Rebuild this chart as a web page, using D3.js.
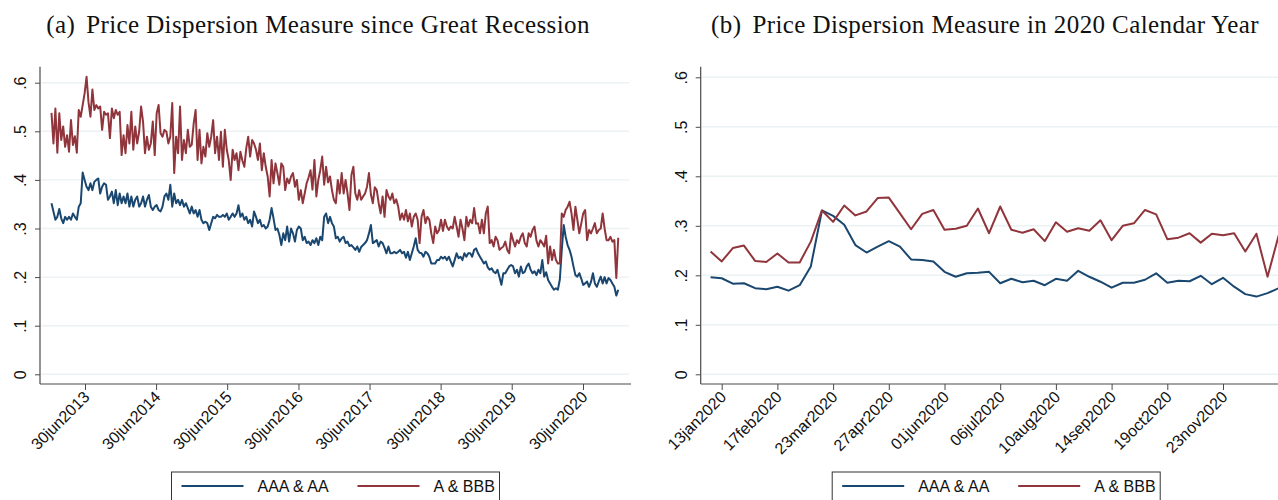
<!DOCTYPE html>
<html>
<head>
<meta charset="utf-8">
<script src="https://cdn.jsdelivr.net/npm/d3@7"></script>
<style>
  html, body { margin: 0; padding: 0; background: #fff; overflow: hidden; }
  svg { display: block; }
</style>
</head>
<body>
<div id="chart"></div>
<script>
// Series labels and axis ticks
const seriesNames = ["AAA & AA", "A & BBB"];
const yTicks = [0, 0.1, 0.2, 0.3, 0.4, 0.5, 0.6];
const yTickLabels = ["0", ".1", ".2", ".3", ".4", ".5", ".6"];
const wideTicks = ["2013-06-30", "2014-06-30", "2015-06-30", "2016-06-30",
                   "2017-06-30", "2018-06-30", "2019-06-30", "2020-06-30"];
const yearTicks = ["2020-01-13", "2020-02-17", "2020-03-23", "2020-04-27", "2020-06-01",
                   "2020-07-06", "2020-08-10", "2020-09-14", "2020-10-19", "2020-11-23"];

// Panel (a): every 10 days, from 09jan2013
const wideStart = "2013-01-09";
const wideStepDays = 10;
const wideAAA = [
  .352, .335, .318, .324, .340, .321, .311, .324, .318, .324,
  .318, .331, .324, .318, .345, .352, .415, .400, .386, .379,
  .393, .379, .396, .400, .403, .372, .386, .393, .390, .359,
  .366, .376, .352, .379, .348, .372, .352, .366, .352, .372,
  .345, .366, .345, .359, .366, .345, .352, .366, .345, .359,
  .369, .345, .338, .345, .348, .338, .335, .345, .366, .372,
  .359, .390, .345, .372, .352, .359, .348, .359, .345, .352,
  .342, .331, .345, .331, .338, .324, .338, .318, .311, .314,
  .311, .297, .311, .324, .321, .328, .324, .324, .328, .324,
  .331, .318, .324, .331, .324, .331, .348, .324, .331, .318,
  .324, .311, .318, .304, .335, .324, .311, .318, .304, .307,
  .300, .304, .318, .342, .321, .297, .300, .287, .266, .290,
  .276, .304, .273, .300, .290, .273, .297, .304, .300, .276,
  .283, .270, .273, .266, .276, .270, .280, .266, .283, .276,
  .324, .331, .311, .324,
  .311, .304, .280, .283, .273, .280, .283, .270, .273, .264,
  .266, .261, .256, .263, .252, .262, .266, .270, .276, .290,
  .307, .270, .273, .276, .263, .273, .270, .260, .249, .263,
  .249, .249, .252, .249, .252, .256, .249, .252, .240, .252,
  .235, .249, .263, .280, .256, .250, .249, .242, .252, .249,
  .242, .228, .228, .228, .235, .235, .242, .238, .242, .235,
  .242, .232, .222, .235, .249, .239, .242, .235, .249, .242,
  .249, .249, .242, .256, .259, .249, .242, .235, .228, .232,
  .220, .215, .218, .211, .208, .215, .200, .184, .208, .208,
  .215, .222, .225, .222, .208, .215, .201, .222, .208, .211,
  .222, .228, .215, .208, .212, .204, .215, .208, .235, .201,
  .210, .194, .187, .180, .174, .177, .174, .195, .256, .307,
  .283, .266, .256, .242, .222, .204, .201, .208, .197, .184,
  .187, .191, .180, .190, .208, .187, .180, .191, .201, .187,
  .200, .187, .198, .194, .187, .180, .162, .174
];
const wideBBB = [
  .538, .475, .547, .456, .537, .482, .510, .468, .492, .458,
  .523, .472, .490, .456, .544, .530, .554, .578, .612, .560,
  .530, .586, .544, .554, .547, .551, .503, .540, .534, .537,
  .486, .547, .527, .544, .534, .540, .451, .492, .455, .513,
  .475, .540, .462, .510, .475, .499, .551, .520, .455, .489,
  .462, .475, .520, .451, .537, .554, .496, .489, .503, .499,
  .475, .489, .558, .414, .489, .455, .551, .441, .482, .455,
  .503, .468, .472, .516, .544, .441, .503, .434, .468, .448,
  .496, .468, .489, .523, .455, .489, .441, .499, .427, .503,
  .462, .441, .400, .462, .441, .455, .420, .458, .440, .427,
  .465, .489, .448, .482, .475, .462, .441, .475, .420, .455,
  .427, .407, .366, .441, .393, .434, .414, .390, .434, .427,
  .379, .403, .393, .407, .414, .386, .400, .359, .379, .352,
  .372, .393, .405, .420, .380, .441, .366, .400, .420, .448,
  .390, .427, .395, .407,
  .379, .359, .352, .400, .372, .414, .372, .400, .372, .338,
  .410, .427, .372, .359, .379, .359, .366, .372, .386, .414,
  .370, .352, .385, .379, .352, .331, .366, .324, .379, .366,
  .359, .372, .352, .360, .345, .318, .331, .318, .338, .315,
  .331, .304, .324, .331, .318, .270, .324, .338, .311, .324,
  .318, .290, .270, .304, .290, .297, .318, .295, .318, .304,
  .297, .304, .300, .324, .304, .283, .318, .300, .276, .324,
  .304, .318, .311, .342, .310, .311, .290, .318, .290, .331,
  .345, .270, .276, .263, .283, .276, .256, .260, .263, .273,
  .256, .249, .290, .276, .263, .276, .270, .283, .290, .270,
  .263, .290, .283, .297, .304, .275, .263, .276, .270, .263,
  .285, .228, .263, .235, .256, .235, .228, .228, .331, .324,
  .338, .345, .355, .331, .297, .345, .318, .290, .310, .331,
  .338, .276, .297, .290, .300, .311, .290, .297, .300, .331,
  .300, .276, .276, .283, .273, .276, .198, .281
];

// Panel (b): weekly, from 06jan2020
const yearStart = "2020-01-06";
const yearStepDays = 7;
const yearAAA = [
  .196, .194, .183, .184, .174, .172, .177, .169, .180, .218,
  .331, .320, .302, .261, .246, .258, .269, .258, .232, .231,
  .228, .207, .197, .204, .205, .207, .184, .193, .186, .189,
  .180, .193, .189, .209, .197, .187, .175, .185, .185, .191,
  .204, .185, .189, .188, .199, .182, .195, .177, .162, .157,
  .164, .174
];
const yearBBB = [
  .248, .228, .255, .260, .229, .227, .244, .226, .226, .268,
  .331, .308, .341, .321, .329, .356, .357, .325, .293, .324,
  .332, .292, .294, .300, .335, .285, .339, .292, .286, .293,
  .269, .307, .288, .295, .290, .311, .271, .300, .305, .332,
  .323, .273, .276, .285, .266, .284, .281, .285, .248, .284,
  .197, .281
];

const W = 1278, H = 500;
const colors = ["#1a476f", "#90353b"];
const gridColor = "#eaf2f3";
const axisColor = "#4a4a4a";
const sansFont = "'Liberation Sans', Arial, sans-serif";
const serifFont = "'Liberation Serif', 'Times New Roman', serif";

const parse = d3.timeParse("%Y-%m-%d");
const fmt = d => d3.timeFormat("%d%b%Y")(d).toLowerCase();

const svg = d3.select("#chart").append("svg")
  .attr("width", W)
  .attr("height", H)
  .style("font-family", sansFont);

function dateRange(start, step, n) {
  const t0 = parse(start);
  return d3.range(n).map(i => d3.timeDay.offset(t0, i * step));
}

function drawPanel(opt) {
  const { left, right, top, bottom, y0, y6, xDomain, xRange, ticks,
          tag, title, titleX, dates, series } = opt;

  const g = svg.append("g");

  const x = d3.scaleTime().domain(xDomain.map(parse)).range(xRange);
  const y = d3.scaleLinear().domain([0, 0.6]).range([y0, y6]);

  // title
  const t = g.append("text")
    .attr("x", titleX)
    .attr("y", 33)
    .attr("text-anchor", "middle")
    .style("font-family", serifFont)
    .style("font-size", "25px")
    .style("letter-spacing", "0.4px")
    .attr("fill", "#111");
  t.append("tspan").text(tag);
  t.append("tspan").attr("dx", 11).text(title);

  // gridlines
  g.selectAll(".grid")
    .data(yTicks)
    .enter()
    .append("line")
    .attr("x1", left + 1)
    .attr("x2", right - 2)
    .attr("y1", d => y(d))
    .attr("y2", d => y(d))
    .attr("stroke", gridColor)
    .attr("stroke-width", 1.4);

  // series
  const clipId = "clip-" + tag.replace(/\W/g, "");
  g.append("clipPath").attr("id", clipId)
    .append("rect")
    .attr("x", left).attr("y", top)
    .attr("width", right - left).attr("height", bottom - top);

  const line = d3.line()
    .x(d => x(d[0]))
    .y(d => y(d[1]));

  series.forEach((vals, k) => {
    g.append("path")
      .datum(vals.map((v, i) => [dates[i], v]))
      .attr("clip-path", `url(#${clipId})`)
      .attr("fill", "none")
      .attr("stroke", colors[k])
      .attr("stroke-width", 2)
      .attr("stroke-linejoin", "round")
      .attr("d", line);
  });

  // y axis
  const yAxisG = g.append("g")
    .attr("transform", `translate(${left},0)`)
    .call(d3.axisLeft(y).tickValues(yTicks).tickSize(5)
      .tickFormat((d, i) => yTickLabels[i]));
  yAxisG.select(".domain").remove();
  yAxisG.selectAll(".tick line").attr("stroke", axisColor);
  yAxisG.selectAll(".tick text")
    .attr("x", null).attr("dy", null)
    .attr("text-anchor", "middle")
    .attr("transform", "translate(-14,0) rotate(-90)")
    .style("font-size", "16px")
    .style("font-family", sansFont)
    .attr("fill", "#111");
  g.append("line")
    .attr("x1", left).attr("x2", left)
    .attr("y1", top).attr("y2", bottom)
    .attr("stroke", axisColor).attr("stroke-width", 1.2);

  // x axis
  const xAxisG = g.append("g")
    .attr("transform", `translate(0,${bottom})`)
    .call(d3.axisBottom(x).tickValues(ticks.map(parse)).tickSize(6).tickFormat(fmt));
  xAxisG.select(".domain").remove();
  xAxisG.selectAll(".tick line").attr("stroke", axisColor);
  xAxisG.selectAll(".tick text")
    .attr("y", null).attr("dy", null)
    .attr("text-anchor", "end")
    .attr("transform", "translate(5,14) rotate(-45)")
    .style("font-size", "16px")
    .style("font-family", sansFont)
    .attr("fill", "#111");
  g.append("line")
    .attr("x1", left).attr("x2", right)
    .attr("y1", bottom).attr("y2", bottom)
    .attr("stroke", axisColor).attr("stroke-width", 1.2);

  // legend
  const cx = (left + right) / 2;
  const lg = g.append("g").attr("transform", `translate(${cx - 164},472)`);
  lg.append("rect")
    .attr("x", 0).attr("y", 0)
    .attr("width", 328).attr("height", 36)
    .attr("fill", "#fff")
    .attr("stroke", "#333").attr("stroke-width", 1);
  seriesNames.forEach((name, k) => {
    const ox = 10 + k * 176;
    lg.append("line")
      .attr("x1", ox).attr("x2", ox + 62)
      .attr("y1", 14).attr("y2", 14)
      .attr("stroke", colors[k]).attr("stroke-width", 2.2);
    lg.append("text")
      .attr("x", ox + 76).attr("y", 20)
      .style("font-size", "16px")
      .attr("fill", "#111")
      .text(name);
  });
}

drawPanel({
  left: 40, right: 631, top: 66.7, bottom: 384, y0: 374.3, y6: 82.7,
  xDomain: ["2013-06-30", "2020-06-30"], xRange: [85, 583],
  ticks: wideTicks,
  tag: "(a)", title: "Price Dispersion Measure since Great Recession", titleX: 318,
  dates: dateRange(wideStart, wideStepDays, wideAAA.length),
  series: [wideAAA, wideBBB]
});

drawPanel({
  left: 700.7, right: 1291.7, top: 66.7, bottom: 384, y0: 374.3, y6: 77.3,
  xDomain: ["2020-01-13", "2020-11-23"], xRange: [721.7, 1223],
  ticks: yearTicks,
  tag: "(b)", title: "Price Dispersion Measure in 2020 Calendar Year", titleX: 985,
  dates: dateRange(yearStart, yearStepDays, yearAAA.length),
  series: [yearAAA, yearBBB]
});
</script>
</body>
</html>
